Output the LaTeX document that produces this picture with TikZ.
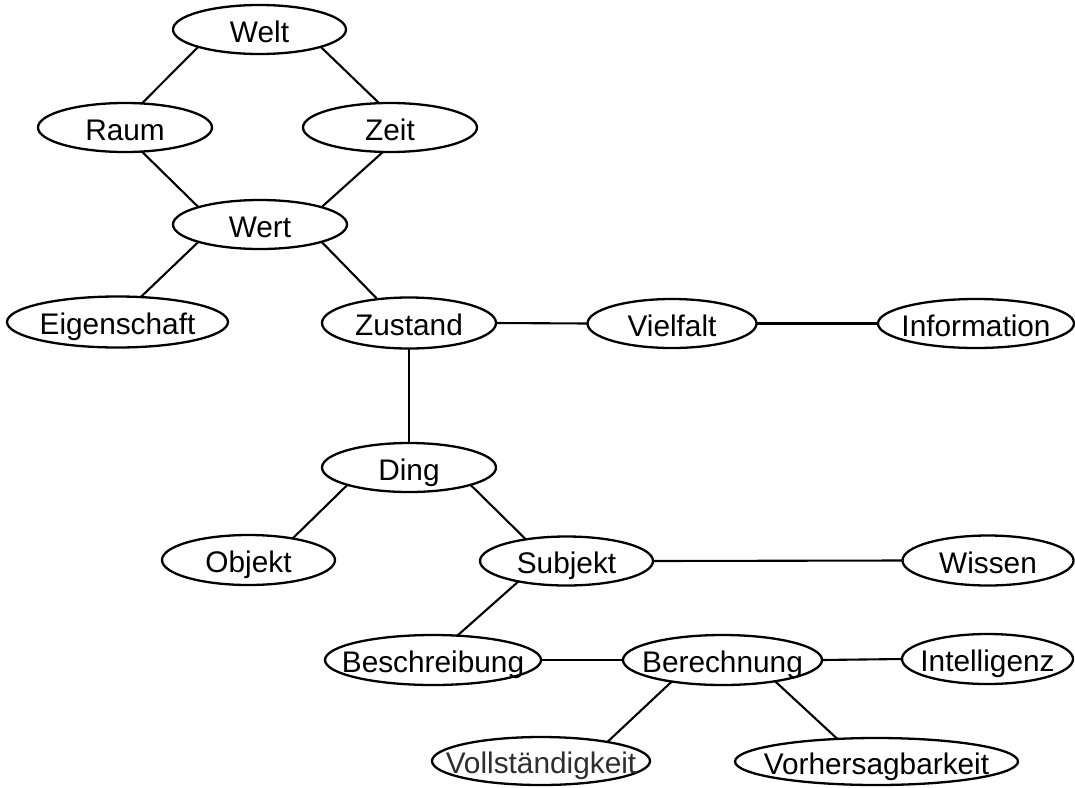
\documentclass[tikz,border=0pt]{standalone}
\usepackage{fontspec}
\setmainfont{Liberation Sans}
\usetikzlibrary{shapes.geometric}
\newcommand\ctext[1]{\makebox[0pt]{#1}}
\begin{document}
\begin{tikzpicture}[x=1pt,y=-1pt,
  ell/.style={ellipse, draw, line width=2.3pt, inner sep=0pt, outer sep=0pt,
    font=\fontsize{29.8}{36}\selectfont, text height=25pt, text depth=0pt},
  link/.style={line width=2.1pt}]
\useasboundingbox (0,0) rectangle (1075,787);

% concepts
\node[ell, minimum width=173pt, minimum height=49pt] (welt) at (259.5,29.5) {\ctext{Welt}};
\node[ell, minimum width=174pt, minimum height=49pt] (raum) at (125,127.5) {\ctext{Raum}};
\node[ell, minimum width=174pt, minimum height=49pt] (zeit) at (390,127.5) {\ctext{Zeit}};
\node[ell, minimum width=174pt, minimum height=49pt] (wert) at (260,224.5) {\ctext{Wert}};
\node[ell, minimum width=221pt, minimum height=51pt] (eigenschaft) at (117.5,322) {\ctext{Eigenschaft}};
\node[ell, minimum width=174pt, minimum height=51pt] (zustand) at (409,323) {\ctext{Zustand}};
\node[ell, minimum width=169pt, minimum height=49pt] (vielfalt) at (672,323.5) {\ctext{Vielfalt}};
\node[ell, minimum width=196pt, minimum height=49pt] (information) at (976,323.5) {\ctext{Information}};
\node[ell, minimum width=174pt, minimum height=49pt] (ding) at (409,467.5) {\ctext{Ding}};
\node[ell, minimum width=173pt, minimum height=50pt] (objekt) at (248.5,560) {\ctext{Objekt}};
\node[ell, minimum width=173pt, minimum height=49pt] (subjekt) at (566.5,561) {\ctext{Subjekt}};
\node[ell, minimum width=171pt, minimum height=50pt] (wissen) at (988,560.5) {\ctext{Wissen}};
\node[ell, minimum width=216pt, minimum height=50pt] (beschreibung) at (433,660) {\ctext{Beschreibung}};
\node[ell, minimum width=199pt, minimum height=50pt] (berechnung) at (722.5,660) {\ctext{Berechnung}};
\node[ell, minimum width=171pt, minimum height=50pt] (intelligenz) at (987.5,659) {\ctext{Intelligenz}};
\node[ell, minimum width=218pt, minimum height=48pt, text=black!82] (vollstaendigkeit) at (541,761) {\ctext{Vollständigkeit}};
\node[ell, minimum width=283pt, minimum height=47pt] (vorhersagbarkeit) at (876.5,761.5) {\ctext{Vorhersagbarkeit}};

% connections
\draw[link] (welt.south west) -- (raum.55);
\draw[link] (welt.south east) -- (zeit.114);
\draw[link] (raum.305) -- (wert.north west);
\draw[link] (zeit.254) -- (wert.north east);
\draw[link] (wert.south west) -- (eigenschaft.47);
\draw[link] (wert.south east) -- (zustand.143);
\draw[link] (zustand.east) -- (vielfalt.west);
\draw[link] (vielfalt.east) -- (information.west);
\draw[link] (zustand.south) -- (ding.north);
\draw[link] (ding.south west) -- (objekt.26);
\draw[link] (ding.south east) -- (subjekt.152);
\draw[link] (subjekt.east) -- (wissen.west);
\draw[link] (subjekt.203) -- (beschreibung.45);
\draw[link] (beschreibung.east) -- (berechnung.west);
\draw[link] (berechnung.east) -- (intelligenz.west);
\draw[link] (berechnung.203) -- (vollstaendigkeit.16);
\draw[link] (berechnung.338) -- (vorhersagbarkeit.150);
\end{tikzpicture}
\end{document}
